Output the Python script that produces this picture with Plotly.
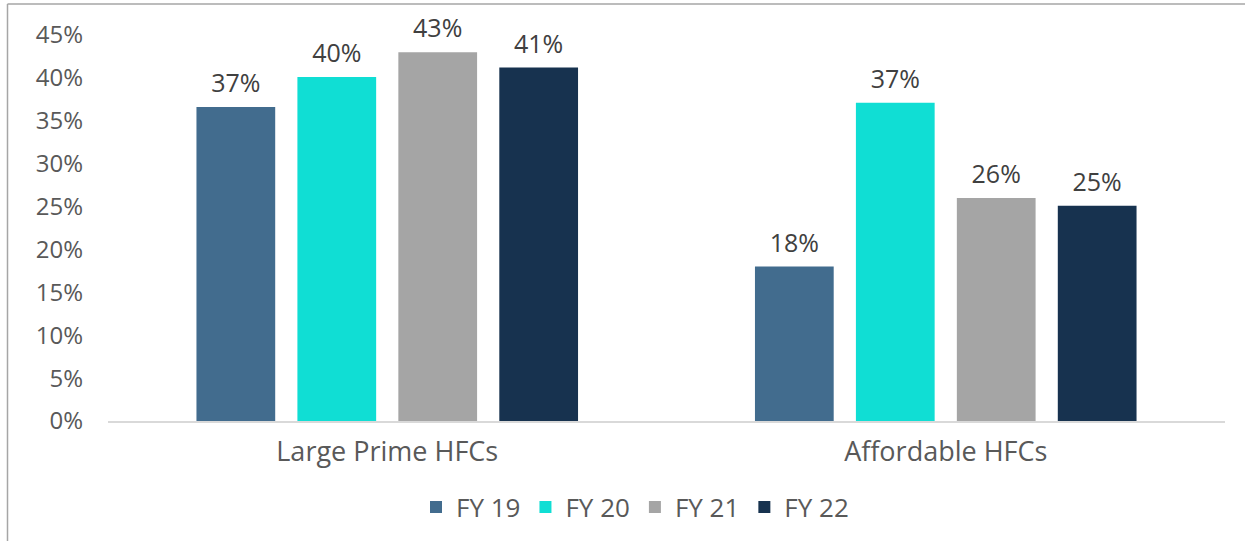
import plotly.graph_objects as go

categories = ["Large Prime HFCs", "Affordable HFCs"]
series_names = ["FY 19", "FY 20", "FY 21", "FY 22"]
fy19 = [36.6, 18.0]
fy20 = [40.1, 37.1]
fy21 = [43.0, 26.0]
fy22 = [41.2, 25.1]
y_ticks = [0, 5, 10, 15, 20, 25, 30, 35, 40, 45]

colors = ["#426C8E", "#10DED4", "#A5A5A5", "#17324F"]
values = [fy19, fy20, fy21, fy22]

W, H = 1245, 541
ml, mr, mt, mb = 108, 20, 35, 119
pw, ph = W - ml - mr, H - mt - mb

FONT = "Open Sans"
TXT = "#595959"

fig = go.Figure()
for name, vals, col in zip(series_names, values, colors):
    fig.add_trace(go.Bar(
        name=name, x=categories, y=vals, marker_color=col,
        marker_line_width=0, offsetgroup=name,
        hoverinfo="skip",
    ))
for name, vals in zip(series_names, values):
    fig.add_trace(go.Scatter(
        x=categories, y=vals, mode="markers+text", offsetgroup=name,
        marker=dict(size=12, color="rgba(0,0,0,0)"),
        text=[f"{round(v)}%" for v in vals], textposition="top center",
        textfont=dict(size=25, color="#404040", family=FONT),
        showlegend=False, hoverinfo="skip", cliponaxis=False,
    ))

def px_x(p):
    return (p - ml) / pw

def px_y(p):
    return (H - mb - p) / ph

fig.update_layout(
    width=W, height=H,
    margin=dict(l=ml, r=mr, t=mt, b=mb),
    paper_bgcolor="white", plot_bgcolor="white",
    barmode="group", bargap=0.277, bargroupgap=0.22,
    scattermode="group", scattergap=0.277,
    font=dict(family=FONT, size=24, color=TXT),
    showlegend=True,
    legend=dict(orientation="h", x=px_x(635), xanchor="center", y=px_y(507), yanchor="middle",
                font=dict(size=26, color=TXT, family=FONT), itemwidth=30,
                tracegroupgap=0),
    xaxis=dict(showline=True, linecolor="#D9D9D9", linewidth=2, showgrid=False,
               ticks="", ticklabelstandoff=6, tickfont=dict(size=27, color=TXT)),
    yaxis=dict(range=[0, 45], tickvals=y_ticks, ticktext=[f"{t}%" for t in y_ticks],
               showgrid=False, zeroline=False, showline=False, ticks="",
               ticklabelstandoff=24, tickfont=dict(size=24, color=TXT)),
    shapes=[
        dict(type="line", xref="paper", yref="paper", x0=px_x(7.5), x1=px_x(7.5),
             y0=px_y(4), y1=px_y(H + 5), line=dict(color="#A6A6A6", width=1.5)),
        dict(type="line", xref="paper", yref="paper", x0=px_x(7.5), x1=px_x(W + 5),
             y0=px_y(4), y1=px_y(4), line=dict(color="#A6A6A6", width=1.5)),
    ],
)

fig.write_html("out.html", config={"displayModeBar": False},
               post_script="document.body.style.margin='0';")
